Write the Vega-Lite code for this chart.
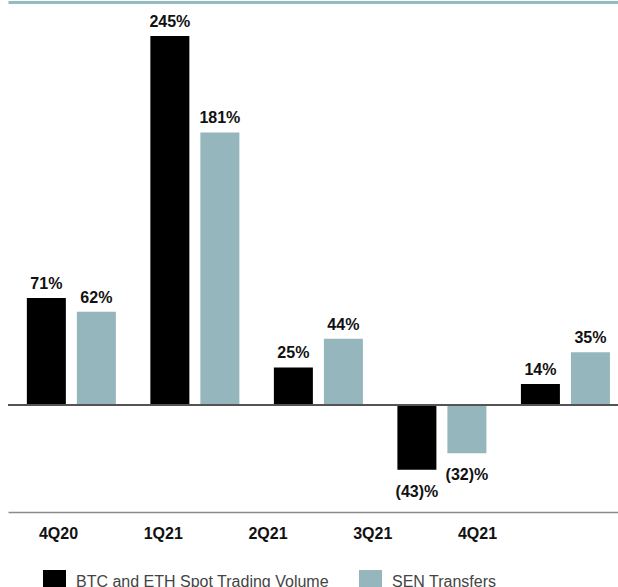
{
  "$schema": "https://vega.github.io/schema/vega-lite/v6.json",
  "width": 610,
  "height": 510,
  "autosize": {"type": "none"},
  "padding": {"left": 8, "top": 2, "right": 0, "bottom": 75},
  "background": "white",
  "config": {"view": {"stroke": null}, "font": "Liberation Sans"},
  "data": {
    "values": [
      {"quarter": "4Q20", "series": "BTC and ETH Spot Trading Volume", "value": 71, "label": "71%"},
      {"quarter": "4Q20", "series": "SEN Transfers", "value": 62, "label": "62%"},
      {"quarter": "1Q21", "series": "BTC and ETH Spot Trading Volume", "value": 245, "label": "245%"},
      {"quarter": "1Q21", "series": "SEN Transfers", "value": 181, "label": "181%"},
      {"quarter": "2Q21", "series": "BTC and ETH Spot Trading Volume", "value": 25, "label": "25%"},
      {"quarter": "2Q21", "series": "SEN Transfers", "value": 44, "label": "44%"},
      {"quarter": "3Q21", "series": "BTC and ETH Spot Trading Volume", "value": -43, "label": "(43)%"},
      {"quarter": "3Q21", "series": "SEN Transfers", "value": -32, "label": "(32)%"},
      {"quarter": "4Q21", "series": "BTC and ETH Spot Trading Volume", "value": 14, "label": "14%"},
      {"quarter": "4Q21", "series": "SEN Transfers", "value": 35, "label": "35%"}
    ]
  },
  "layer": [
    {
      "encoding": {
        "x": {"field": "quarter", "type": "nominal", "sort": ["4Q20", "1Q21", "2Q21", "3Q21", "4Q21"],
              "scale": {"paddingInner": 0.2794, "paddingOuter": 0.109, "align": 0.7},
              "axis": {"orient": "top", "labels": false, "ticks": false, "title": null, "domainColor": "#93bcc0", "domainWidth": 3}},
        "xOffset": {"field": "series", "type": "nominal", "sort": ["BTC and ETH Spot Trading Volume", "SEN Transfers"],
                    "scale": {"paddingInner": 0.22, "paddingOuter": 0}},
        "y": {"field": "value", "type": "quantitative", "scale": {"domain": [-71, 267.6], "nice": false, "zero": false}, "axis": null}
      },
      "layer": [
        {
          "mark": {"type": "bar"},
          "encoding": {
            "color": {"field": "series", "type": "nominal", "sort": ["BTC and ETH Spot Trading Volume", "SEN Transfers"],
                      "scale": {"domain": ["BTC and ETH Spot Trading Volume", "SEN Transfers"], "range": ["#000000", "#94b6bc"]},
                      "legend": {"orient": "none", "legendX": 35, "legendY": 568, "direction": "horizontal", "title": null,
                                 "symbolType": "square", "symbolSize": 529, "symbolStrokeWidth": 0, "labelFontSize": 16,
                                 "labelColor": "#444444", "labelFont": "Liberation Sans", "labelOffset": 10, "columnPadding": 30,
                                 "labelLimit": 400, "padding": 0}}
          }
        },
        {
          "transform": [{"filter": "datum.value >= 0"}],
          "mark": {"type": "text", "fontWeight": "bold", "fontSize": 16, "baseline": "alphabetic", "dy": -9, "color": "#111111"},
          "encoding": {"text": {"field": "label"}}
        },
        {
          "transform": [{"filter": "datum.value < 0"}],
          "mark": {"type": "text", "fontWeight": "bold", "fontSize": 16, "baseline": "alphabetic", "dy": 27, "color": "#111111"},
          "encoding": {"text": {"field": "label"}}
        },
        {
          "mark": {"type": "rule", "color": "#555555", "strokeWidth": 1.5},
          "encoding": {"y": {"datum": 0}, "x": null, "xOffset": null}
        }
      ]
    },
    {
      "mark": {"type": "point", "opacity": 0},
      "encoding": {
        "x": {"field": "quarter", "type": "nominal", "sort": ["4Q20", "1Q21", "2Q21", "3Q21", "4Q21"],
              "scale": {"type": "point", "padding": 0.9117, "align": 0.2618},
              "axis": {"orient": "bottom", "title": null, "ticks": false, "labelAngle": 0, "labelFontWeight": "bold",
                       "labelFontSize": 16, "labelColor": "#111111", "labelPadding": 13, "domainColor": "#8a8a8a",
                       "domainWidth": 1.5, "labelFont": "Liberation Sans"}}
      }
    }
  ],
  "resolve": {"scale": {"x": "independent"}}
}
